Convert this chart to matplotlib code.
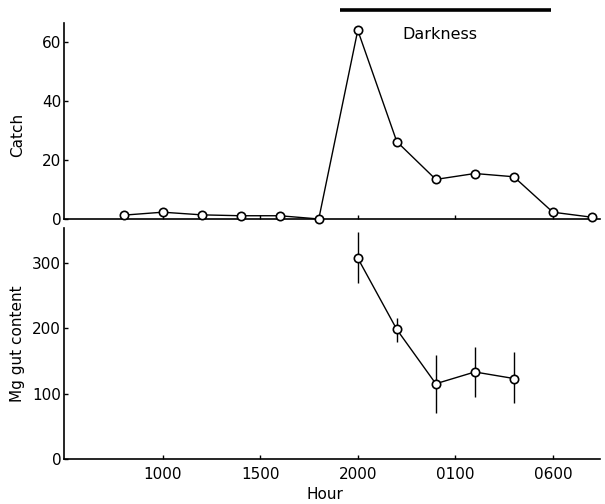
import matplotlib
matplotlib.use('Agg')
import matplotlib.pyplot as plt

# hours since midnight of first day (0800 ... 0800 next day)
catch_hours = [8, 10, 12, 14, 16, 18, 20, 22, 24, 26, 28, 30, 32]
catch = [1.3, 2.3, 1.4, 1.1, 1.1, 0.0, 63.9, 26.2, 13.4, 15.4, 14.3, 2.3, 0.6]

gut_hours = [20, 22, 24, 26, 28]
gut = [307, 198, 115, 133, 123]
gut_lo = [269, 179, 70, 94, 85]
gut_hi = [347, 216, 159, 171, 163]

tick_hours = [10, 15, 20, 25, 30]
tick_labels = ['1000', '1500', '2000', '0100', '0600']

dark_start, dark_end = 19.1, 29.9

plt.rcParams['font.family'] = 'DejaVu Sans'
plt.rcParams['font.size'] = 11

fig = plt.figure(figsize=(6.05, 5.04), dpi=100)
ax1 = fig.add_axes([0.1058, 0.5655, 0.886, 0.3885])
ax2 = fig.add_axes([0.1058, 0.0893, 0.886, 0.4583])

mstyle = dict(marker='o', ms=6, mfc='white', mec='black', mew=1.2,
              color='black', lw=1.0)

# catch panel
ax1.plot(catch_hours, catch, **mstyle, clip_on=False, zorder=3)
ax1.set_xlim(4.94, 32.42)
ax1.set_ylim(0, 66.3)
ax1.set_yticks([0, 20, 40, 60])
ax1.set_xticks(tick_hours)
ax1.set_xticklabels([])
ax1.set_ylabel('Catch', fontsize=11)
ax1.yaxis.set_label_coords(-0.072, 0.43)
ax1.plot([dark_start, dark_end], [70.7, 70.7], color='black', lw=2.6,
         solid_capstyle='butt', clip_on=False)
ax1.text(22.3, 62.3, 'Darkness', fontsize=11.5, va='center', ha='left')

# gut content panel
gut_err = [[g - lo for g, lo in zip(gut, gut_lo)],
           [hi - g for g, hi in zip(gut, gut_hi)]]
ax2.errorbar(gut_hours, gut, yerr=gut_err, ecolor='black', elinewidth=1.0,
             capsize=0, **mstyle, zorder=3)
ax2.set_xlim(4.94, 32.42)
ax2.set_ylim(0, 353)
ax2.set_yticks([0, 100, 200, 300])
ax2.set_xticks(tick_hours)
ax2.set_xticklabels(tick_labels)
ax2.set_ylabel('Mg gut content', fontsize=11)
ax2.yaxis.set_label_coords(-0.072, 0.5)
ax2.set_xlabel('Hour', fontsize=11)
ax2.xaxis.set_label_coords(0.486, -0.12)

for ax in (ax1, ax2):
    for s in ('top', 'right'):
        ax.spines[s].set_visible(False)
    for s in ('left', 'bottom'):
        ax.spines[s].set_linewidth(1.2)
    ax.tick_params(direction='in', length=3, width=1.0, pad=2, labelsize=11)
ax2.tick_params(axis='x', pad=6)

fig.savefig('out.png', dpi=100)
